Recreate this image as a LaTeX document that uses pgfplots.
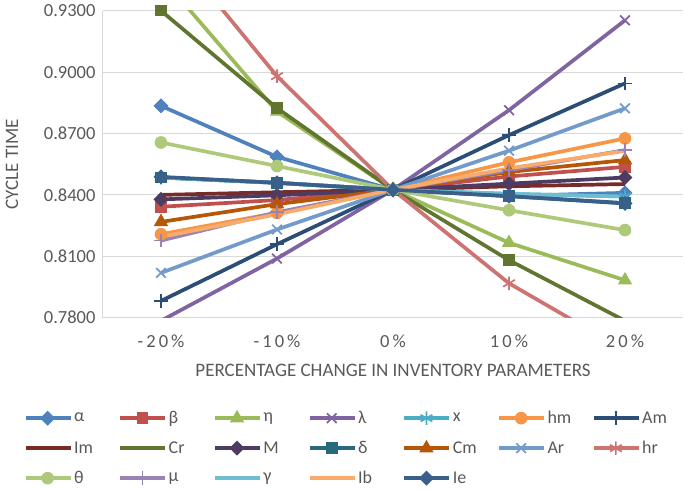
\documentclass[border=0pt]{standalone}
\usepackage{pgfplots}
\pgfplotsset{compat=1.18}
\usepackage{pgfplotstable}
\usepackage{fontspec}
\setmainfont{Carlito}

\definecolor{txt}{HTML}{595959}
\definecolor{grd}{HTML}{D9D9D9}
\definecolor{cA}{HTML}{4F81BD}
\definecolor{cB}{HTML}{C0504D}
\definecolor{cEta}{HTML}{9BBB59}
\definecolor{cLam}{HTML}{8064A2}
\definecolor{cX}{HTML}{4BACC6}
\definecolor{cHm}{HTML}{F79646}
\definecolor{cAm}{HTML}{2C4D75}
\definecolor{cIm}{HTML}{772C2A}
\definecolor{cCr}{HTML}{5F7530}
\definecolor{cM}{HTML}{4D3B62}
\definecolor{cDel}{HTML}{276A7C}
\definecolor{cCm}{HTML}{B65708}
\definecolor{cAr}{HTML}{729ACA}
\definecolor{cHr}{HTML}{CD7371}
\definecolor{cTh}{HTML}{AFC97A}
\definecolor{cMu}{HTML}{9983B5}
\definecolor{cGam}{HTML}{6FBDD1}
\definecolor{cIb}{HTML}{F9AB6B}
\definecolor{cIe}{HTML}{3A5F8B}

% x: 0 = -20%, 1 = -10%, 2 = 0%, 3 = 10%, 4 = 20%
\pgfplotstableread{
x a b eta lam xx hm Am Im Cr M del Cm Ar hr th mu gam Ib Ie
0 0.8835 0.8342 0.9466 0.7785 0.8485 0.8208 0.7882 0.8400 0.9300 0.8378 0.8485 0.8268 0.8019 0.9670 0.8656 0.8177 0.8485 0.8195 0.8488
1 0.8586 0.8375 0.8807 0.8089 0.8459 0.8312 0.8159 0.8413 0.8824 0.8398 0.8459 0.8355 0.8231 0.8980 0.8541 0.8315 0.8459 0.8305 0.8459
2 0.8425 0.8425 0.8425 0.8425 0.8425 0.8425 0.8425 0.8425 0.8425 0.8425 0.8425 0.8425 0.8425 0.8425 0.8425 0.8425 0.8425 0.8425 0.8425
3 0.8395 0.8490 0.8166 0.8814 0.8405 0.8559 0.8692 0.8442 0.8081 0.8455 0.8394 0.8512 0.8616 0.7968 0.8325 0.8521 0.8405 0.8530 0.8394
4 0.8410 0.8537 0.7983 0.9253 0.8392 0.8676 0.8945 0.8453 0.7785 0.8485 0.8360 0.8570 0.8823 0.7640 0.8228 0.8619 0.8392 0.8615 0.8358
}\data

\newcommand\legtxt[1]{\makebox[28pt][l]{#1}}

\pgfplotsset{
  dia/.style={mark=square*, mark size=4.8pt, mark options={solid, line width=1pt, rotate=45}},
  sq/.style={mark=square*, mark size=5.3pt},
  tri/.style={mark=triangle*, mark size=7.3pt},
  crs/.style={mark size=6.8pt, mark options={solid, line width=1.7pt}},
}

\begin{document}
\begin{tikzpicture}
\begin{axis}[
  at={(0,0)}, anchor=south west,
  scale only axis, width=580pt, height=307pt,
  xmin=-0.5, xmax=4.5, ymin=0.78, ymax=0.93,
  xtick={0,1,2,3,4},
  xticklabels={-\,2\,0\,\%, -\,1\,0\,\%, 0\,\%, 1\,0\,\%, 2\,0\,\%},
  ytick={0.78,0.81,...,0.93},
  yticklabel style={xshift=-4pt, /pgf/number format/.cd, fixed, fixed zerofill, precision=4, assume math mode=true},
  xticklabel style={yshift=-14pt},
  tick label style={font=\fontsize{18.5}{22}\selectfont, text=txt},
  major tick length=0pt,
  axis x line*=bottom, axis y line*=left,
  axis line style={draw=grd, line width=1pt, -},
  ymajorgrids, grid style={draw=grd, line width=1pt},
  xlabel={PERCENTAGE CHANGE IN INVENTORY PARAMETERS},
  ylabel={CYCLE TIME},
  label style={font=\fontsize{19}{22}\selectfont, text=txt},
  xlabel style={at={(axis description cs:0.5,-0.172)}, anchor=center},
  ylabel style={at={(axis description cs:-0.157,0.5)}, anchor=center},
  every axis plot/.append style={line width=3.7pt, mark size=5.8pt, mark options={solid, line width=1pt}},
  legend columns=7,
  legend cell align=left,
  legend style={at={(axis description cs:0.422,-0.425)}, anchor=center, draw=none, fill=none,
    font=\fontsize{18}{21}\selectfont, text=txt, row sep=13pt,
    nodes={inner sep=1.5pt},
    /tikz/every even column/.append style={column sep=15pt}},
  legend image code/.code={\draw[mark repeat=2, mark phase=2, #1] plot coordinates {(0pt,0pt) (22pt,0pt) (45pt,0pt)};},
]
\addplot[color=cA, dia] table[y=a] {\data}; \addlegendentry{\legtxt{α}}
\addplot[color=cB, sq] table[y=b] {\data}; \addlegendentry{\legtxt{β}}
\addplot[color=cEta, tri] table[y=eta] {\data}; \addlegendentry{\legtxt{η}}
\addplot[color=cLam, mark=x, crs] table[y=lam] {\data}; \addlegendentry{\legtxt{λ}}
\addplot[color=cX, mark=asterisk, crs] table[y=xx] {\data}; \addlegendentry{\legtxt{x}}
\addplot[color=cHm, mark=*] table[y=hm] {\data}; \addlegendentry{\legtxt{hm}}
\addplot[color=cAm, mark=+, crs] table[y=Am] {\data}; \addlegendentry{\legtxt{Am}}
\addplot[color=cIm] table[y=Im] {\data}; \addlegendentry{\legtxt{Im}}
\addplot[color=cCr, sq, legend image post style={mark=none}] table[y=Cr] {\data}; \addlegendentry{\legtxt{Cr}}
\addplot[color=cM, dia] table[y=M] {\data}; \addlegendentry{\legtxt{M}}
\addplot[color=cDel, sq] table[y=del] {\data}; \addlegendentry{\legtxt{δ}}
\addplot[color=cCm, tri] table[y=Cm] {\data}; \addlegendentry{\legtxt{Cm}}
\addplot[color=cAr, mark=x, crs] table[y=Ar] {\data}; \addlegendentry{\legtxt{Ar}}
\addplot[color=cHr, mark=asterisk, crs] table[y=hr] {\data}; \addlegendentry{\legtxt{hr}}
\addplot[color=cTh, mark=*] table[y=th] {\data}; \addlegendentry{\legtxt{θ}}
\addplot[color=cMu, mark=+, crs] table[y=mu] {\data}; \addlegendentry{\legtxt{μ}}
\addplot[color=cGam] table[y=gam] {\data}; \addlegendentry{\legtxt{γ}}
\addplot[color=cIb] table[y=Ib] {\data}; \addlegendentry{\legtxt{Ib}}
\addplot[color=cIe, dia] table[y=Ie] {\data}; \addlegendentry{\legtxt{Ie}}
\end{axis}
\path (-103pt,-174.3pt) rectangle (582pt,317.7pt);
\end{tikzpicture}
\end{document}
